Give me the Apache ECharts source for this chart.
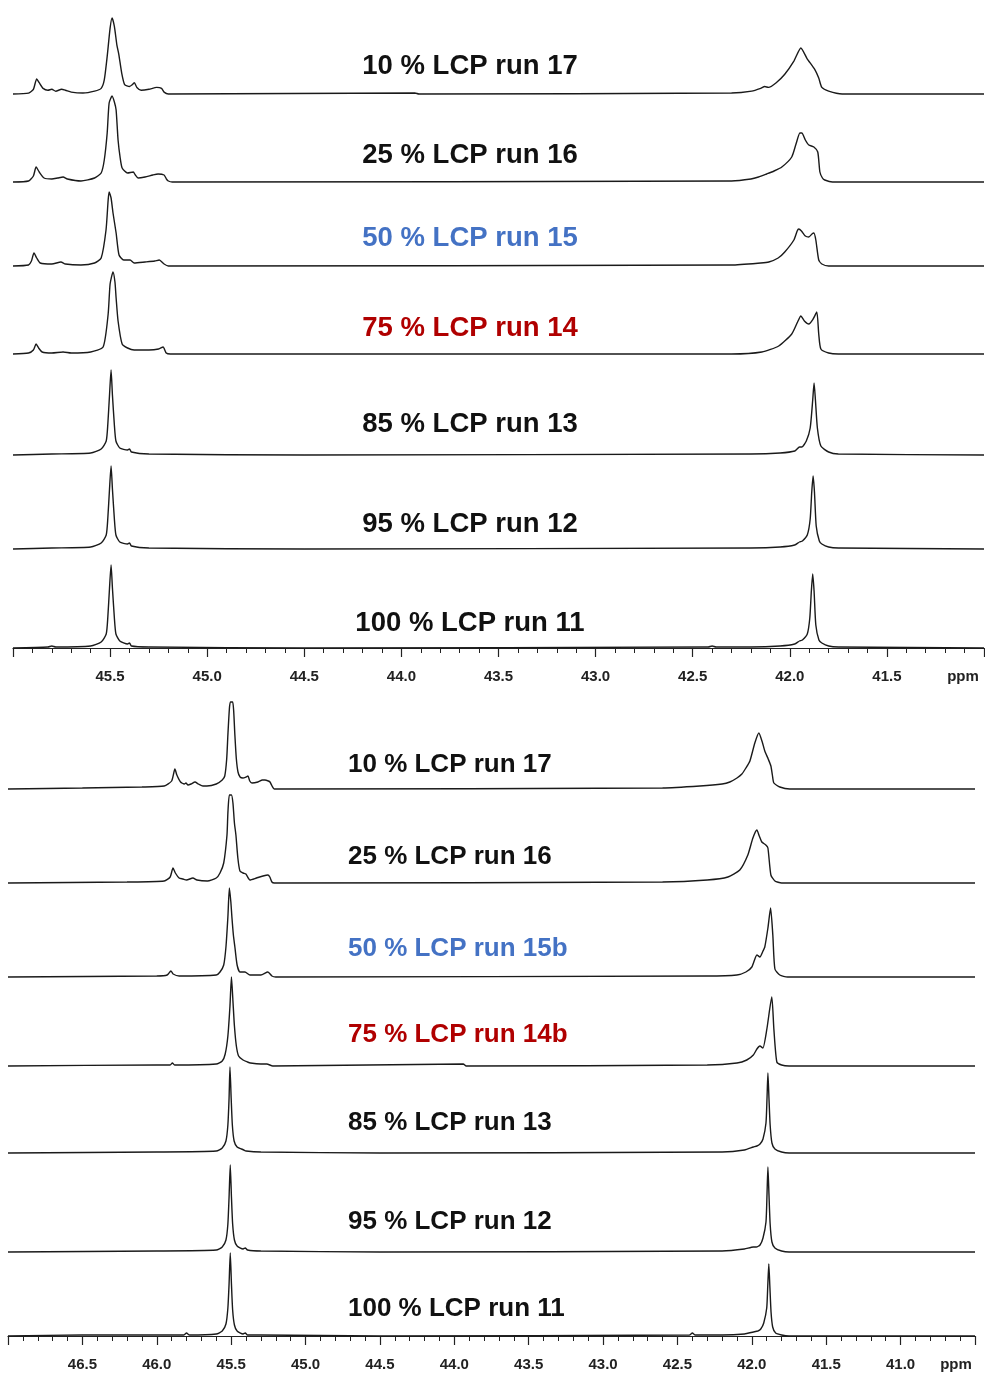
<!DOCTYPE html>
<html>
<head>
<meta charset="utf-8">
<script src="https://cdn.jsdelivr.net/npm/echarts@6/dist/echarts.min.js"></script>
<style>
html,body{margin:0;padding:0;background:#fff;}
#c{width:985px;height:1375px;}
</style>
</head>
<body>
<div id="c"></div>
<script>
// ---------- labels ----------
const topLabels = ['10 % LCP run 17','25 % LCP run 16','50 % LCP run 15','75 % LCP run 14','85 % LCP run 13','95 % LCP run 12','100 % LCP run 11'];
const bottomLabels = ['10 % LCP run 17','25 % LCP run 16','50 % LCP run 15b','75 % LCP run 14b','85 % LCP run 13','95 % LCP run 12','100 % LCP run 11'];
const labelColors = ['#111111','#111111','#4472C4','#B00000','#111111','#111111','#111111'];
const axisUnit = 'ppm';

// ---------- spectra: [ppm, intensity] (top panel) ----------
const t10 = [[46.00,0],[45.92,1],[45.895,5],[45.878,16],[45.865,12],[45.845,6],[45.82,4],[45.80,5],[45.78,3],[45.75,5],[45.73,4],[45.70,2],[45.64,1],[45.58,3],[45.546,6],[45.53,15],[45.515,40],[45.50,70],[45.49,81],[45.478,72],[45.465,52],[45.455,42],[45.44,22],[45.425,10],[45.40,8],[45.385,10],[45.375,12],[45.362,7],[45.34,4],[45.30,5],[45.26,7],[45.235,6],[45.222,2],[45.20,0],[43.93,1],[43.91,0],[42.30,1],[42.196,3],[42.15,6],[42.129,8],[42.11,7],[42.07,12],[42.026,21],[41.979,35],[41.943,49],[41.912,38],[41.871,26],[41.851,17],[41.835,7],[41.80,3],[41.73,0],[41.00,0]];
const t25 = [[46.00,0],[45.92,1],[45.895,6],[45.881,15],[45.865,10],[45.84,4],[45.80,3],[45.77,4],[45.742,5],[45.72,3],[45.65,1],[45.58,4],[45.546,9],[45.53,22],[45.515,49],[45.505,79],[45.49,86],[45.478,80],[45.469,72],[45.459,42],[45.448,24],[45.438,14],[45.41,9],[45.381,10],[45.37,7],[45.356,4],[45.32,5],[45.28,7],[45.253,8],[45.222,7],[45.21,3],[45.20,1],[45.18,0],[42.30,1],[42.20,3],[42.161,5],[42.12,8],[42.081,11],[42.041,15],[41.99,25],[41.968,38],[41.948,49],[41.938,49],[41.92,42],[41.902,37],[41.876,35],[41.856,30],[41.845,10],[41.832,4],[41.82,2],[41.78,0],[41.00,0]];
const t50 = [[46.00,0],[45.92,1],[45.905,5],[45.892,13],[45.878,8],[45.86,3],[45.80,2],[45.753,4],[45.73,2],[45.65,1],[45.58,3],[45.546,8],[45.521,36],[45.51,66],[45.505,74],[45.495,68],[45.485,53],[45.469,33],[45.454,11],[45.43,6],[45.397,6],[45.376,3],[45.32,4],[45.27,5],[45.247,6],[45.222,2],[45.20,0],[42.30,1],[42.15,3],[42.108,4],[42.06,8],[42.026,14],[41.979,26],[41.962,35],[41.954,37],[41.94,35],[41.92,30],[41.902,29],[41.886,32],[41.876,33],[41.866,26],[41.851,6],[41.835,2],[41.80,0],[41.00,0]];
const t75 = [[46.00,0],[45.92,1],[45.895,4],[45.881,10],[45.868,6],[45.85,2],[45.80,1],[45.742,2],[45.70,1],[45.60,2],[45.536,7],[45.51,40],[45.50,70],[45.485,82],[45.475,72],[45.469,56],[45.459,33],[45.438,10],[45.41,6],[45.376,4],[45.30,4],[45.25,5],[45.227,7],[45.211,1],[45.19,0],[42.30,0],[42.144,2],[42.057,8],[41.990,20],[41.960,32],[41.943,38],[41.925,33],[41.902,30],[41.88,35],[41.861,42],[41.851,20],[41.840,5],[41.80,1],[41.75,0],[41.00,0]];
const t85 = [[46.00,0],[45.80,1],[45.60,2],[45.546,6],[45.52,14],[45.512,30],[45.503,60],[45.495,85],[45.488,60],[45.478,30],[45.47,14],[45.45,7],[45.41,5],[45.40,6],[45.39,3],[45.30,1],[44.50,0],[42.20,1],[42.05,2],[41.974,4],[41.950,8],[41.938,8],[41.915,14],[41.895,27],[41.882,55],[41.875,72],[41.868,55],[41.858,27],[41.840,9],[41.80,3],[41.75,1],[41.00,0]];
const t95 = [[46.00,0],[45.80,1],[45.60,2],[45.546,6],[45.52,14],[45.512,30],[45.503,60],[45.495,83],[45.488,60],[45.478,30],[45.47,14],[45.45,7],[45.41,5],[45.40,6],[45.39,3],[45.30,1],[44.50,0],[42.20,1],[42.05,2],[41.975,4],[41.950,7],[41.935,8],[41.91,14],[41.895,30],[41.887,57],[41.880,73],[41.873,57],[41.864,23],[41.848,8],[41.835,5],[41.80,2],[41.75,1],[41.00,0]];
const t100 = [[46.00,0],[45.82,1],[45.80,2],[45.78,1],[45.60,2],[45.546,6],[45.52,14],[45.512,30],[45.503,60],[45.495,83],[45.488,60],[45.478,30],[45.47,14],[45.45,7],[45.41,4],[45.40,5],[45.39,2],[45.30,1],[44.50,0],[42.42,1],[42.40,2],[42.38,1],[42.20,1],[42.05,2],[41.975,4],[41.950,7],[41.935,8],[41.91,14],[41.897,30],[41.889,57],[41.882,74],[41.875,57],[41.866,23],[41.850,8],[41.835,5],[41.80,2],[41.75,1],[41.00,0]];

// ---------- spectra: [ppm, intensity] (bottom panel) ----------
const b10 = [[47.00,0],[46.50,1],[46.10,2],[45.95,3],[45.90,8],[45.878,20],[45.865,14],[45.84,7],[45.815,5],[45.804,6],[45.79,4],[45.77,5],[45.743,7],[45.72,5],[45.69,3],[45.663,3],[45.60,5],[45.56,9],[45.543,13],[45.53,30],[45.522,54],[45.512,80],[45.505,87],[45.49,87],[45.483,78],[45.475,54],[45.465,30],[45.454,17],[45.44,12],[45.421,11],[45.40,12],[45.387,13],[45.375,8],[45.36,6],[45.32,7],[45.29,9],[45.273,9],[45.25,8],[45.239,7],[45.225,3],[45.21,0],[42.60,1],[42.349,3],[42.20,5],[42.148,7],[42.10,11],[42.067,15],[42.04,21],[42.013,28],[41.980,46],[41.953,56],[41.93,47],[41.913,38],[41.89,30],[41.872,23],[41.862,14],[41.852,6],[41.812,2],[41.745,0],[40.50,0]];
const b25 = [[47.00,0],[46.20,1],[45.95,2],[45.91,6],[45.891,15],[45.875,10],[45.85,5],[45.824,4],[45.80,3],[45.757,5],[45.73,3],[45.66,2],[45.60,5],[45.575,10],[45.55,20],[45.528,48],[45.522,70],[45.512,88],[45.498,88],[45.488,80],[45.478,60],[45.468,48],[45.455,25],[45.441,12],[45.42,10],[45.401,9],[45.385,5],[45.374,3],[45.33,5],[45.286,7],[45.253,8],[45.24,6],[45.226,1],[45.21,0],[42.60,1],[42.30,3],[42.161,6],[42.081,13],[42.027,28],[41.993,45],[41.966,53],[41.95,47],[41.933,41],[41.906,38],[41.892,35],[41.872,8],[41.845,2],[41.80,0],[40.50,0]];
const b50 = [[47.00,0],[46.00,1],[45.93,2],[45.905,6],[45.89,3],[45.85,1],[45.60,2],[45.575,5],[45.55,12],[45.535,30],[45.522,60],[45.512,89],[45.502,75],[45.495,60],[45.485,42],[45.475,30],[45.46,12],[45.441,5],[45.407,5],[45.374,2],[45.30,2],[45.253,5],[45.226,1],[45.20,0],[42.30,1],[42.101,2],[42.04,5],[42.000,10],[41.966,22],[41.946,20],[41.925,26],[41.913,30],[41.892,49],[41.874,69],[41.859,42],[41.845,8],[41.812,2],[41.76,0],[40.50,0]];
const b75 = [[47.00,0],[46.00,1],[45.91,1],[45.895,3],[45.88,1],[45.60,2],[45.56,5],[45.54,12],[45.522,30],[45.508,60],[45.498,89],[45.488,65],[45.478,40],[45.465,20],[45.45,10],[45.42,6],[45.39,4],[45.37,3],[45.30,2],[45.26,2],[45.22,0],[43.94,2],[43.92,0],[42.30,1],[42.10,3],[42.034,6],[41.99,11],[41.966,17],[41.946,20],[41.926,18],[41.899,37],[41.866,69],[41.852,37],[41.832,4],[41.80,1],[41.75,0],[40.50,0]];
const b85 = [[47.00,0],[46.00,1],[45.60,2],[45.56,5],[45.535,12],[45.522,28],[45.514,55],[45.508,86],[45.500,55],[45.492,28],[45.48,12],[45.46,6],[45.43,4],[45.415,3],[45.40,2],[45.30,1],[44.50,0],[42.20,1],[42.05,3],[41.99,6],[41.966,7],[41.945,9],[41.925,14],[41.905,30],[41.898,55],[41.892,80],[41.885,55],[41.877,28],[41.865,10],[41.845,4],[41.80,1],[41.75,0],[40.50,0]];
const b95 = [[47.00,0],[46.00,1],[45.60,2],[45.56,5],[45.535,12],[45.522,28],[45.514,55],[45.506,87],[45.498,55],[45.490,28],[45.478,12],[45.46,6],[45.42,3],[45.405,4],[45.39,2],[45.30,1],[44.50,0],[42.20,1],[42.05,3],[41.99,5],[41.97,5],[41.945,7],[41.925,14],[41.905,30],[41.898,58],[41.892,85],[41.885,58],[41.877,28],[41.865,10],[41.845,4],[41.80,1],[41.75,0],[40.50,0]];
const b100 = [[47.00,0],[46.50,1],[45.82,1],[45.80,3],[45.78,1],[45.60,2],[45.56,5],[45.535,12],[45.522,28],[45.514,52],[45.506,83],[45.498,52],[45.490,26],[45.478,11],[45.46,5],[45.42,2],[45.405,3],[45.39,1],[45.30,1],[44.50,0],[42.42,1],[42.40,3],[42.38,1],[42.20,1],[42.05,2],[41.99,4],[41.96,5],[41.94,7],[41.92,13],[41.900,28],[41.893,50],[41.886,72],[41.879,50],[41.871,24],[41.86,9],[41.84,3],[41.80,1],[41.75,0],[40.50,0]];

const topSpectra = [t10,t25,t50,t75,t85,t95,t100];
const bottomSpectra = [b10,b25,b50,b75,b85,b95,b100];

// ---------- layout ----------
const panels = [
  {spectra: topSpectra, labels: topLabels, min: 41.0, max: 46.0, left: 13, width: 971, labelSize: 27.5,
   baselines: [94,182,266,354,455,549,648], labelY: [66,155,238,328,424,524,623], labelX: 470, labelAlign: 'center', unitX: 963},
  {spectra: bottomSpectra, labels: bottomLabels, min: 40.5, max: 47.0, left: 8, width: 967, labelSize: 26,
   baselines: [789,883,977,1066,1153,1252,1336], labelY: [765,857,949,1035,1123,1222,1309], labelX: 348, labelAlign: 'left', unitX: 956}
];

const FONT = '"Liberation Sans", Arial, sans-serif';
const H = 100;
const grid = [], xAxis = [], yAxis = [], series = [], graphic = [];
let gi = 0;
panels.forEach(p => {
  p.spectra.forEach((data, i) => {
    const last = i === p.spectra.length - 1;
    grid.push({left: p.left, width: p.width, top: p.baselines[i] - H, height: H});
    xAxis.push({
      type: 'value', gridIndex: gi, min: p.min, max: p.max, inverse: true, interval: 0.5,
      show: last, offset: 7,
      axisLine: {show: true, lineStyle: {color: '#222', width: 1.2}},
      axisTick: {show: true, length: 9, lineStyle: {color: '#222', width: 1.2}},
      minorTick: {show: true, splitNumber: 5, length: 5, lineStyle: {color: '#222', width: 1}},
      splitLine: {show: false}, minorSplitLine: {show: false},
      axisLabel: {show: true, margin: 14, color: '#222', fontFamily: FONT, fontWeight: 'bold', fontSize: 15,
        showMinLabel: false, showMaxLabel: false, formatter: v => v.toFixed(1)}
    });
    yAxis.push({type: 'value', gridIndex: gi, min: 0, max: H, show: false});
    series.push({
      type: 'line', xAxisIndex: gi, yAxisIndex: gi, data: data,
      showSymbol: false, symbol: 'none', smooth: 0.2, clip: false, silent: true,
      lineStyle: {color: '#1a1a1a', width: 1.4}
    });
    graphic.push({
      type: 'text', x: p.labelX, y: p.labelY[i], silent: true,
      style: {text: p.labels[i], fill: labelColors[i], font: 'bold ' + p.labelSize + 'px ' + FONT,
        textAlign: p.labelAlign, textVerticalAlign: 'middle', align: p.labelAlign, verticalAlign: 'middle'}
    });
    gi++;
  });
  const axisY = p.baselines[p.baselines.length - 1] + 7;
  graphic.push({
    type: 'text', x: p.unitX, y: axisY + 22, silent: true,
    style: {text: axisUnit, fill: '#222', font: 'bold 15px ' + FONT,
      textAlign: 'center', textVerticalAlign: 'middle', align: 'center', verticalAlign: 'middle'}
  });
});

const chart = echarts.init(document.getElementById('c'), null, {renderer: 'canvas'});
chart.setOption({
  backgroundColor: '#ffffff',
  animation: false,
  grid, xAxis, yAxis, series, graphic
});
</script>
</body>
</html>
